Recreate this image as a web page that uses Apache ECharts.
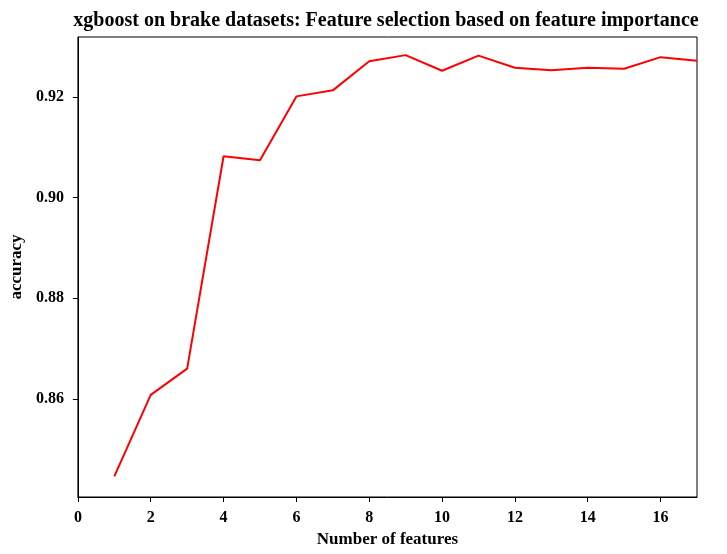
<!DOCTYPE html>
<html>
<head>
<meta charset="utf-8">
<script src="https://cdn.jsdelivr.net/npm/echarts@6/dist/echarts.min.js"></script>
<style>html,body{margin:0;padding:0;background:#fff}#c{width:727px;height:554px}</style>
</head>
<body>
<div id="c"></div>
<script>
const numFeatures = [1,2,3,4,5,6,7,8,9,10,11,12,13,14,15,16,17];
const accuracy = [0.8446,0.8608,0.8660,0.9082,0.9074,0.9201,0.9213,0.9271,0.9283,0.9252,0.9282,0.9258,0.9253,0.9258,0.9256,0.9279,0.9272];
const xTicks = [0,2,4,6,8,10,12,14,16];
const yTicks = [0.86,0.88,0.90,0.92];

const font = '"Liberation Serif","Times New Roman",serif';
const chart = echarts.init(document.getElementById('c'));
chart.setOption({
  animation:false,
  title:{text:'xgboost on brake datasets: Feature selection based on feature importance',left:381,textAlign:'center',top:6,
    textStyle:{fontFamily:font,fontWeight:'bold',fontSize:20,color:'#000'}},
  grid:{left:77,right:30,top:37,bottom:57,show:true,borderColor:'#000',borderWidth:1,backgroundColor:'transparent'},
  xAxis:{type:'value',min:0,max:17,
    name:'Number of features',nameLocation:'middle',nameGap:32,
    nameTextStyle:{fontFamily:font,fontWeight:'bold',fontSize:17,color:'#000'},
    axisLine:{show:true,lineStyle:{color:'#000',width:1}},
    axisTick:{show:true,inside:false,length:5,lineStyle:{color:'#000'},customValues:xTicks},
    axisLabel:{fontFamily:font,fontWeight:'bold',fontSize:16,color:'#000',margin:13,customValues:xTicks},
    splitLine:{show:false}},
  yAxis:{type:'value',min:0.8405,max:0.9319,
    name:'accuracy',nameLocation:'middle',nameGap:49,
    nameTextStyle:{fontFamily:font,fontWeight:'bold',fontSize:17,color:'#000'},
    axisLine:{show:true,lineStyle:{color:'#000',width:1}},
    axisTick:{show:true,inside:false,length:5,lineStyle:{color:'#000'},customValues:yTicks},
    axisLabel:{fontFamily:font,fontWeight:'bold',fontSize:16,color:'#000',margin:14,customValues:yTicks,
      formatter:v=>v.toFixed(2)},
    splitLine:{show:false}},
  series:[{type:'line',data:numFeatures.map((x,i)=>[x,accuracy[i]]),symbol:'none',
    lineStyle:{color:'#ff0000',width:2},itemStyle:{color:'#ff0000'}}]
});
</script>
</body>
</html>
